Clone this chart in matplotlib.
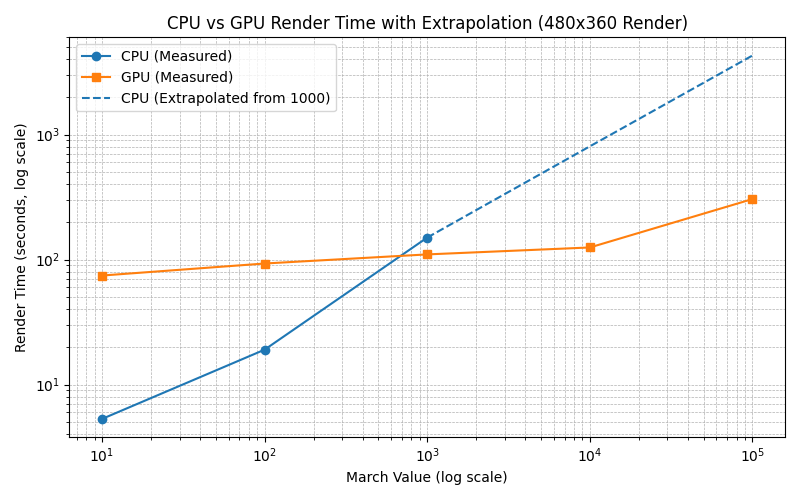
import matplotlib
matplotlib.use("Agg")
import matplotlib.pyplot as plt

march = [10, 100, 1000, 10000, 100000]
cpu_measured = [5.3, 19, 150]
gpu_measured = [74.5, 93, 110, 125, 305]
extrap_x = [1000, 10000, 100000]
cpu_extrap = [150, 806, 4300]

fig, ax = plt.subplots(figsize=(8, 5), dpi=100)
ax.plot(march[:3], cpu_measured, 'o-', label='CPU (Measured)')
ax.plot(march, gpu_measured, 's-', label='GPU (Measured)')
ax.plot(extrap_x, cpu_extrap, '--', color='C0', label='CPU (Extrapolated from 1000)')
ax.set_xscale('log')
ax.set_yscale('log')
ax.set_xlabel('March Value (log scale)')
ax.set_ylabel('Render Time (seconds, log scale)')
ax.set_title('CPU vs GPU Render Time with Extrapolation (480x360 Render)')
ax.grid(True, which='both', ls='--', lw=0.5)
ax.legend(loc='upper left')
fig.tight_layout()
fig.savefig('out.png')
